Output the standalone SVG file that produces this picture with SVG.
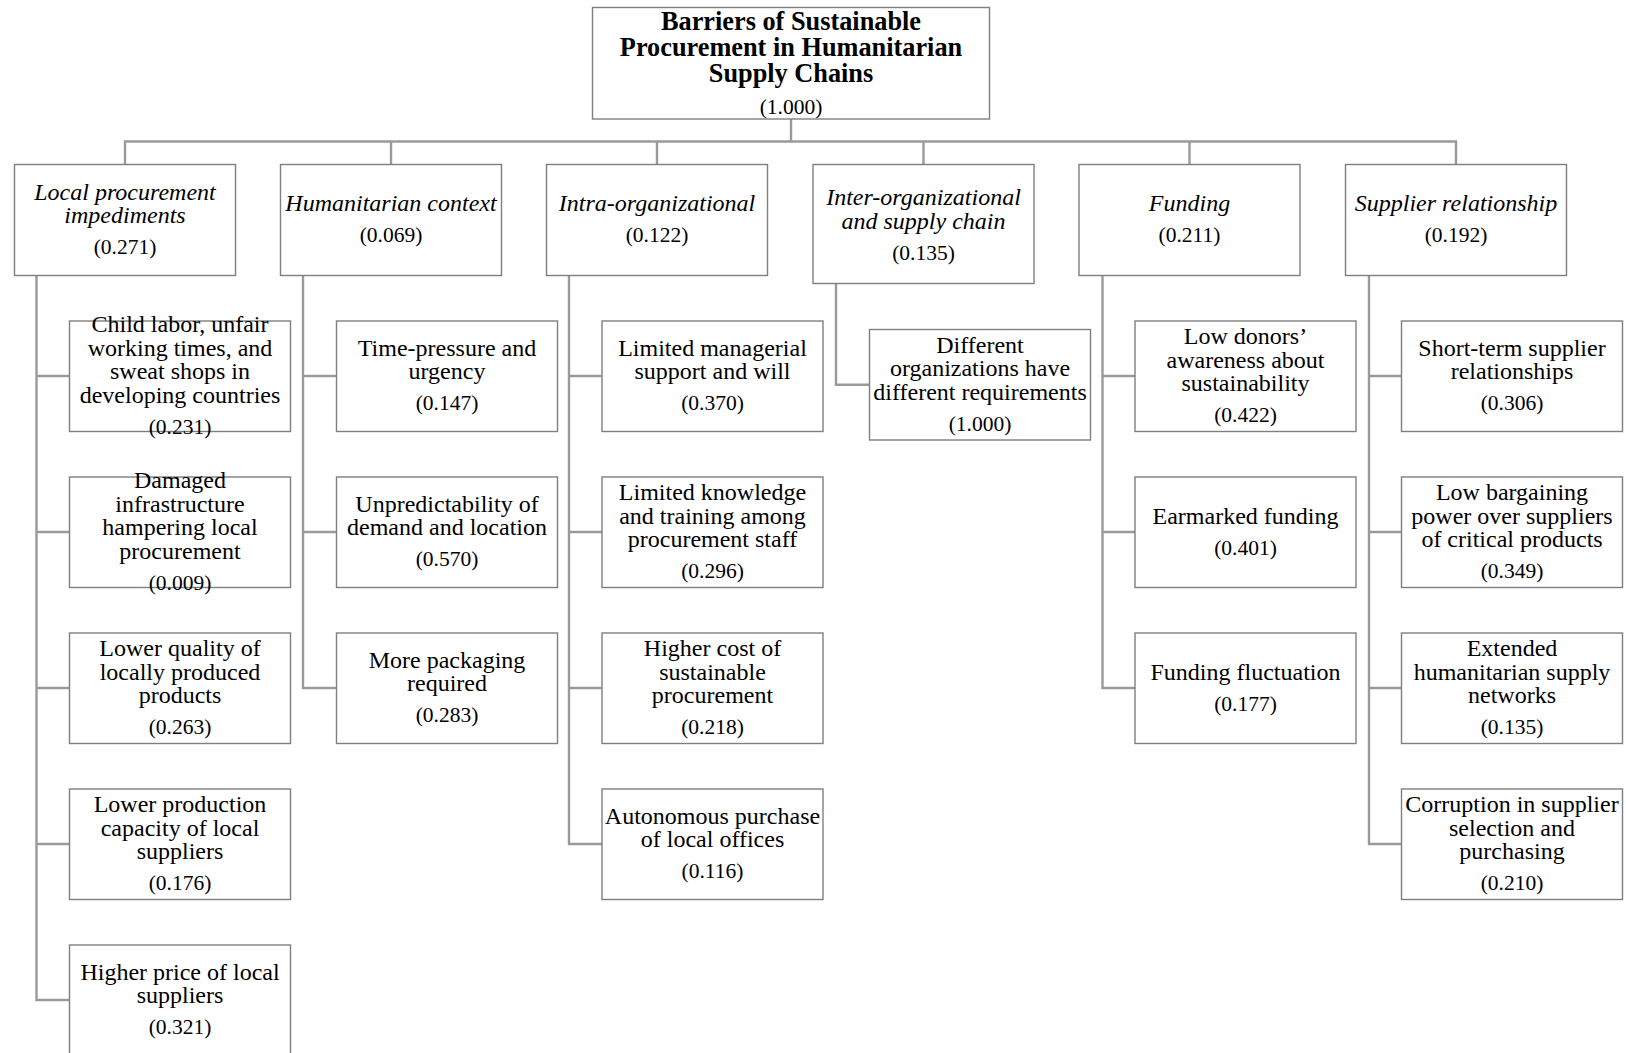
<svg xmlns="http://www.w3.org/2000/svg" width="1626" height="1053" viewBox="0 0 1626 1053">
<style>
.bg{fill:#ffffff}
.box{fill:#ffffff;stroke:#7f7f7f;stroke-width:1.4}
.con{fill:none;stroke:#9a9a9a;stroke-width:2.4}
text{font-family:"Liberation Serif","Times New Roman",serif;fill:#000;text-anchor:middle}
.t{font-size:24px}
.it{font-size:24px;font-style:italic}
.b{font-size:26.3px;font-weight:bold}
.n{font-size:21.5px}
.tx{transform:translateY(1.5px)}
</style>
<rect class="bg" x="0" y="0" width="1626" height="1053"/>
<g id="connectors">
<path class="con" d="M791 119V141.5M125 164.5V141.5H1456V164.5M391 141.5V164.5M657 141.5V164.5M923.5 141.5V164.5M1189.5 141.5V164.5"/>
<path class="con" d="M36.5 275.5V1000H69.5M36.5 376H69.5M36.5 532H69.5M36.5 688H69.5M36.5 844H69.5"/>
<path class="con" d="M303 275.5V688H336.5M303 376H336.5M303 532H336.5"/>
<path class="con" d="M569 275.5V844H602M569 376H602M569 532H602M569 688H602"/>
<path class="con" d="M836 283.5V384.7H869.5"/>
<path class="con" d="M1102.5 275.5V688H1135M1102.5 376H1135M1102.5 532H1135"/>
<path class="con" d="M1369 275.5V844H1401.5M1369 376H1401.5M1369 532H1401.5M1369 688H1401.5"/>
</g>
<g id="root">
<rect class="box" x="592.5" y="7.5" width="397" height="111.5"/>
<text class="b"><tspan x="791" y="30">Barriers of Sustainable</tspan><tspan x="791" y="56">Procurement in Humanitarian</tspan><tspan x="791" y="82">Supply Chains</tspan></text>
<text class="n" x="791" y="113.5">(1.000)</text>
</g>
<g id="local-procurement" transform="translate(125,221.3)">
<rect class="box" x="-110.5" y="-56.8" width="221" height="111"/>
<text class="it"><tspan x="0" y="-21.5">Local procurement</tspan><tspan x="0" y="2">impediments</tspan></text>
<text class="n" x="0" y="33">(0.271)</text>
</g>
<g id="humanitarian-context" transform="translate(391,221.3)">
<rect class="box" x="-110.5" y="-56.8" width="221" height="111"/>
<text class="it" x="0" y="-10">Humanitarian context</text>
<text class="n" x="0" y="21">(0.069)</text>
</g>
<g id="intra-organizational" transform="translate(657,221.3)">
<rect class="box" x="-110.5" y="-56.8" width="221" height="111"/>
<text class="it" x="0" y="-10">Intra-organizational</text>
<text class="n" x="0" y="21">(0.122)</text>
</g>
<g id="inter-organizational" transform="translate(923.5,225)">
<rect class="box" x="-110.5" y="-60.5" width="221" height="119"/>
<text class="it"><tspan x="0" y="-20">Inter-organizational</tspan><tspan x="0" y="4">and supply chain</tspan></text>
<text class="n" x="0" y="35">(0.135)</text>
</g>
<g id="funding" transform="translate(1189.5,221.3)">
<rect class="box" x="-110.5" y="-56.8" width="221" height="111"/>
<text class="it" x="0" y="-10">Funding</text>
<text class="n" x="0" y="21">(0.211)</text>
</g>
<g id="supplier-relationship" transform="translate(1456,221.3)">
<rect class="box" x="-110.5" y="-56.8" width="221" height="111"/>
<text class="it" x="0" y="-10">Supplier relationship</text>
<text class="n" x="0" y="21">(0.192)</text>
</g>
<g id="child-labor" transform="translate(180,377.5)">
<rect class="box" x="-110.5" y="-56.5" width="221" height="110.5"/>
<text class="t"><tspan x="0" y="-45.25">Child labor, unfair</tspan><tspan x="0" y="-21.75">working times, and</tspan><tspan x="0" y="1.75">sweat shops in</tspan><tspan x="0" y="25.25">developing countries</tspan></text>
<text class="n" x="0" y="56.25">(0.231)</text>
</g>
<g id="damaged-infrastructure" transform="translate(180,533.5)">
<rect class="box" x="-110.5" y="-56.5" width="221" height="110.5"/>
<text class="t"><tspan x="0" y="-45.25">Damaged</tspan><tspan x="0" y="-21.75">infrastructure</tspan><tspan x="0" y="1.75">hampering local</tspan><tspan x="0" y="25.25">procurement</tspan></text>
<text class="n" x="0" y="56.25">(0.009)</text>
</g>
<g id="lower-quality" transform="translate(180,689.5)">
<rect class="box" x="-110.5" y="-56.5" width="221" height="110.5"/>
<text class="t"><tspan x="0" y="-33.5">Lower quality of</tspan><tspan x="0" y="-10">locally produced</tspan><tspan x="0" y="13.5">products</tspan></text>
<text class="n" x="0" y="44.5">(0.263)</text>
</g>
<g id="lower-production" transform="translate(180,845.5)">
<rect class="box" x="-110.5" y="-56.5" width="221" height="110.5"/>
<text class="t"><tspan x="0" y="-33.5">Lower production</tspan><tspan x="0" y="-10">capacity of local</tspan><tspan x="0" y="13.5">suppliers</tspan></text>
<text class="n" x="0" y="44.5">(0.176)</text>
</g>
<g id="higher-price" transform="translate(180,1001.5)">
<rect class="box" x="-110.5" y="-56.5" width="221" height="110.5"/>
<text class="t"><tspan x="0" y="-21.75">Higher price of local</tspan><tspan x="0" y="1.75">suppliers</tspan></text>
<text class="n" x="0" y="32.75">(0.321)</text>
</g>
<g id="time-pressure" transform="translate(447,377.5)">
<rect class="box" x="-110.5" y="-56.5" width="221" height="110.5"/>
<text class="t"><tspan x="0" y="-21.75">Time-pressure and</tspan><tspan x="0" y="1.75">urgency</tspan></text>
<text class="n" x="0" y="32.75">(0.147)</text>
</g>
<g id="unpredictability" transform="translate(447,533.5)">
<rect class="box" x="-110.5" y="-56.5" width="221" height="110.5"/>
<text class="t"><tspan x="0" y="-21.75">Unpredictability of</tspan><tspan x="0" y="1.75">demand and location</tspan></text>
<text class="n" x="0" y="32.75">(0.570)</text>
</g>
<g id="more-packaging" transform="translate(447,689.5)">
<rect class="box" x="-110.5" y="-56.5" width="221" height="110.5"/>
<text class="t"><tspan x="0" y="-21.75">More packaging</tspan><tspan x="0" y="1.75">required</tspan></text>
<text class="n" x="0" y="32.75">(0.283)</text>
</g>
<g id="limited-managerial" transform="translate(712.5,377.5)">
<rect class="box" x="-110.5" y="-56.5" width="221" height="110.5"/>
<text class="t"><tspan x="0" y="-21.75">Limited managerial</tspan><tspan x="0" y="1.75">support and will</tspan></text>
<text class="n" x="0" y="32.75">(0.370)</text>
</g>
<g id="limited-knowledge" transform="translate(712.5,533.5)">
<rect class="box" x="-110.5" y="-56.5" width="221" height="110.5"/>
<text class="t"><tspan x="0" y="-33.5">Limited knowledge</tspan><tspan x="0" y="-10">and training among</tspan><tspan x="0" y="13.5">procurement staff</tspan></text>
<text class="n" x="0" y="44.5">(0.296)</text>
</g>
<g id="higher-cost" transform="translate(712.5,689.5)">
<rect class="box" x="-110.5" y="-56.5" width="221" height="110.5"/>
<text class="t"><tspan x="0" y="-33.5">Higher cost of</tspan><tspan x="0" y="-10">sustainable</tspan><tspan x="0" y="13.5">procurement</tspan></text>
<text class="n" x="0" y="44.5">(0.218)</text>
</g>
<g id="autonomous-purchase" transform="translate(712.5,845.5)">
<rect class="box" x="-110.5" y="-56.5" width="221" height="110.5"/>
<text class="t"><tspan x="0" y="-21.75">Autonomous purchase</tspan><tspan x="0" y="1.75">of local offices</tspan></text>
<text class="n" x="0" y="32.75">(0.116)</text>
</g>
<g id="different-requirements" transform="translate(980,386.2)">
<rect class="box" x="-110.5" y="-56.7" width="221" height="110.5"/>
<text class="t"><tspan x="0" y="-33.5">Different</tspan><tspan x="0" y="-10">organizations have</tspan><tspan x="0" y="13.5">different requirements</tspan></text>
<text class="n" x="0" y="44.5">(1.000)</text>
</g>
<g id="low-donors-awareness" transform="translate(1245.5,377.5)">
<rect class="box" x="-110.5" y="-56.5" width="221" height="110.5"/>
<text class="t"><tspan x="0" y="-33.5">Low donors’</tspan><tspan x="0" y="-10">awareness about</tspan><tspan x="0" y="13.5">sustainability</tspan></text>
<text class="n" x="0" y="44.5">(0.422)</text>
</g>
<g id="earmarked-funding" transform="translate(1245.5,533.5)">
<rect class="box" x="-110.5" y="-56.5" width="221" height="110.5"/>
<text class="t" x="0" y="-10">Earmarked funding</text>
<text class="n" x="0" y="21">(0.401)</text>
</g>
<g id="funding-fluctuation" transform="translate(1245.5,689.5)">
<rect class="box" x="-110.5" y="-56.5" width="221" height="110.5"/>
<text class="t" x="0" y="-10">Funding fluctuation</text>
<text class="n" x="0" y="21">(0.177)</text>
</g>
<g id="short-term-supplier" transform="translate(1512,377.5)">
<rect class="box" x="-110.5" y="-56.5" width="221" height="110.5"/>
<text class="t"><tspan x="0" y="-21.75">Short-term supplier</tspan><tspan x="0" y="1.75">relationships</tspan></text>
<text class="n" x="0" y="32.75">(0.306)</text>
</g>
<g id="low-bargaining-power" transform="translate(1512,533.5)">
<rect class="box" x="-110.5" y="-56.5" width="221" height="110.5"/>
<text class="t"><tspan x="0" y="-33.5">Low bargaining</tspan><tspan x="0" y="-10">power over suppliers</tspan><tspan x="0" y="13.5">of critical products</tspan></text>
<text class="n" x="0" y="44.5">(0.349)</text>
</g>
<g id="extended-networks" transform="translate(1512,689.5)">
<rect class="box" x="-110.5" y="-56.5" width="221" height="110.5"/>
<text class="t"><tspan x="0" y="-33.5">Extended</tspan><tspan x="0" y="-10">humanitarian supply</tspan><tspan x="0" y="13.5">networks</tspan></text>
<text class="n" x="0" y="44.5">(0.135)</text>
</g>
<g id="corruption" transform="translate(1512,845.5)">
<rect class="box" x="-110.5" y="-56.5" width="221" height="110.5"/>
<text class="t"><tspan x="0" y="-33.5">Corruption in supplier</tspan><tspan x="0" y="-10">selection and</tspan><tspan x="0" y="13.5">purchasing</tspan></text>
<text class="n" x="0" y="44.5">(0.210)</text>
</g>
</svg>
